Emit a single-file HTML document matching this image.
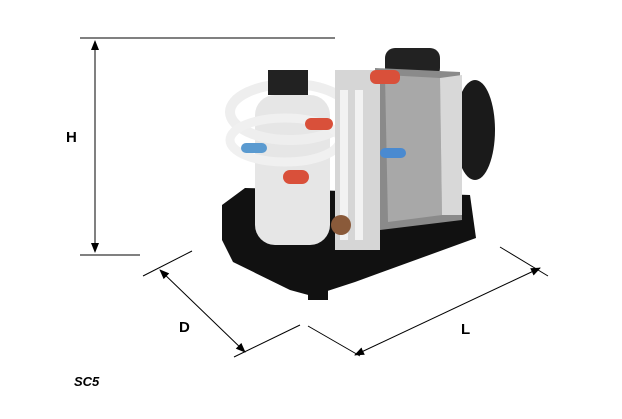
<!DOCTYPE html>
<html><head><style>
html,body{margin:0;padding:0;background:#fff;}
svg{display:block}
text{font-family:"Liberation Sans",sans-serif;font-weight:bold;}
</style></head><body>
<svg width="622" height="419" viewBox="0 0 622 419" xmlns="http://www.w3.org/2000/svg">
<defs>
<marker id="a" markerWidth="10" markerHeight="10" refX="9" refY="5" orient="auto" markerUnits="userSpaceOnUse">
<path d="M0,1 L10,5 L0,9 z" fill="#000"/></marker>
<marker id="b" markerWidth="10" markerHeight="10" refX="1" refY="5" orient="auto" markerUnits="userSpaceOnUse">
<path d="M10,1 L0,5 L10,9 z" fill="#000"/></marker>
</defs>
<g stroke="#000" stroke-width="1" fill="none">
<line x1="80" y1="38" x2="335" y2="38"/>
<line x1="80" y1="255" x2="140" y2="255"/>
<line x1="95" y1="41" x2="95" y2="252" marker-start="url(#b)" marker-end="url(#a)"/>
<line x1="143" y1="276" x2="192" y2="251"/>
<line x1="234" y1="357" x2="300" y2="325"/>
<line x1="160" y1="270" x2="245" y2="352" marker-start="url(#b)" marker-end="url(#a)"/>
<line x1="308" y1="326" x2="360" y2="356"/>
<line x1="500" y1="247" x2="548" y2="276"/>
<line x1="355" y1="355" x2="540" y2="268" marker-start="url(#b)" marker-end="url(#a)"/>
</g>
<text x="66" y="142" font-size="15">H</text>
<text x="179" y="332" font-size="15">D</text>
<text x="461" y="334" font-size="15">L</text>
<text x="74" y="386" font-size="13" font-style="italic">SC5</text>
<!-- machine -->
<polygon points="222,205 245,188 470,195 476,238 355,282 312,296 290,290 233,262 222,240" fill="#111"/>
<rect x="308" y="290" width="20" height="10" fill="#111"/>
<ellipse cx="475" cy="130" rx="20" ry="50" fill="#1a1a1a"/>
<rect x="385" y="48" width="55" height="30" rx="10" fill="#222"/>
<polygon points="375,68 460,72 462,220 380,230" fill="#8a8a8a"/>
<polygon points="385,75 440,78 442,215 388,222" fill="#a8a8a8"/>
<polygon points="440,78 462,75 462,215 442,215" fill="#d8d8d8"/>
<rect x="255" y="95" width="75" height="150" rx="20" fill="#e6e6e6"/>
<ellipse cx="290" cy="112" rx="60" ry="28" fill="none" stroke="#eee" stroke-width="10"/>
<ellipse cx="285" cy="140" rx="55" ry="22" fill="none" stroke="#f0f0f0" stroke-width="9"/>
<rect x="268" y="70" width="40" height="25" fill="#222"/>
<rect x="335" y="70" width="45" height="180" fill="#d6d6d6"/>
<rect x="340" y="90" width="8" height="150" fill="#f2f2f2"/>
<rect x="355" y="90" width="8" height="150" fill="#f2f2f2"/>
<rect x="370" y="70" width="30" height="14" rx="6" fill="#d9503a"/>
<rect x="305" y="118" width="28" height="12" rx="6" fill="#d9503a"/>
<rect x="283" y="170" width="26" height="14" rx="7" fill="#d9503a"/>
<rect x="241" y="143" width="26" height="10" rx="5" fill="#5a9ad0"/>
<rect x="380" y="148" width="26" height="10" rx="5" fill="#4a8ad0"/>
<circle cx="341" cy="225" r="10" fill="#8a5a3a"/>
</svg>
</body></html>
